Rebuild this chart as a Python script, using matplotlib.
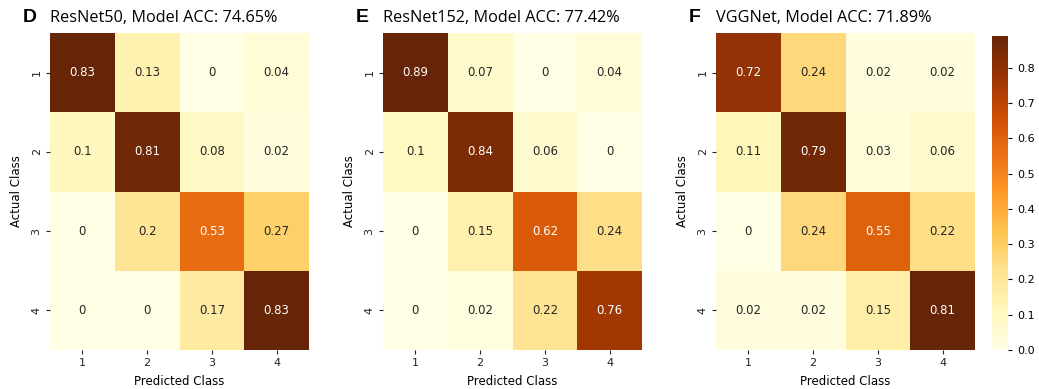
import numpy as np
import matplotlib
matplotlib.use("Agg")
import matplotlib.pyplot as plt
import seaborn as sns

# confusion matrices (rows = actual, cols = predicted)
classes = ["1", "2", "3", "4"]
cm_resnet50 = [[0.83, 0.13, 0, 0.04],
               [0.1, 0.81, 0.08, 0.02],
               [0, 0.2, 0.53, 0.27],
               [0, 0, 0.17, 0.83]]
cm_resnet152 = [[0.89, 0.07, 0, 0.04],
                [0.1, 0.84, 0.06, 0],
                [0, 0.15, 0.62, 0.24],
                [0, 0.02, 0.22, 0.76]]
cm_vggnet = [[0.72, 0.24, 0.02, 0.02],
             [0.11, 0.79, 0.03, 0.06],
             [0, 0.24, 0.55, 0.22],
             [0.02, 0.02, 0.15, 0.81]]
panel_letters = ["D", "E", "F"]
titles = ["ResNet50, Model ACC: 74.65%",
          "ResNet152, Model ACC: 77.42%",
          "VGGNet, Model ACC: 71.89%"]

W, H = 1039, 389
fig = plt.figure(figsize=(W / 100, H / 100), dpi=100)

lefts = [50, 383, 716]
ax_w, top, bottom = 259, 33, 350

cbar_ax = fig.add_axes([992 / W, (H - 350) / H, 16 / W, (350 - 36) / H])

for i, cm in enumerate([cm_resnet50, cm_resnet152, cm_vggnet]):
    ax = fig.add_axes([lefts[i] / W, (H - bottom) / H, ax_w / W, (bottom - top) / H])
    # each panel scaled to its own max; colour bar taken from the ResNet152 panel
    sns.heatmap(np.array(cm), ax=ax, cmap="YlOrBr", vmin=0,
                annot=True, fmt="g", annot_kws={"fontsize": 8.5},
                xticklabels=classes, yticklabels=classes,
                cbar=(i == 1), cbar_ax=cbar_ax if i == 1 else None)
    ax.tick_params(labelsize=8, length=3, pad=3, colors="#222222")
    ax.set_yticklabels(classes, rotation=90, va="center")
    ax.set_xlabel("Predicted Class", fontsize=8.5, labelpad=5)
    ax.set_ylabel("Actual Class", fontsize=8.5, labelpad=6)
    fig.text((lefts[i] - 27) / W, (H - 22) / H, panel_letters[i],
             fontsize=14, fontweight="bold", family="Liberation Sans")
    fig.text(lefts[i] / W, (H - 22) / H, titles[i],
             fontsize=11.7, family="Open Sans")

cbar_ax.tick_params(labelsize=8, length=3)
cbar_ax.set_yticks(np.arange(0, 0.81, 0.1))

fig.savefig("out.png", dpi=100)
